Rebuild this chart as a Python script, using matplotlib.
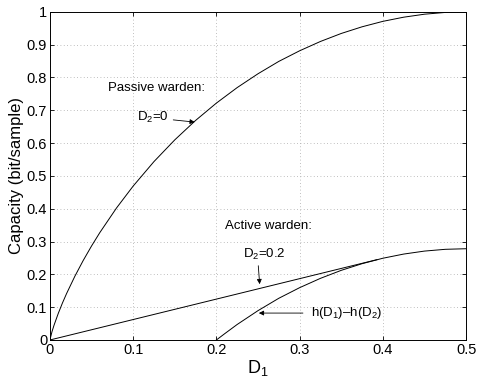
import matplotlib
matplotlib.use("Agg")
import matplotlib.pyplot as plt

plt.rcParams['font.family'] = ['Liberation Sans', 'DejaVu Sans']
plt.rcParams['mathtext.fontset'] = 'custom'
plt.rcParams['mathtext.rm'] = 'Liberation Sans'
plt.rcParams['mathtext.it'] = 'Liberation Sans'
plt.rcParams['mathtext.default'] = 'regular'

# Passive warden capacity (D2 = 0)
passive_d1 = [0.0, 0.0025, 0.005, 0.01, 0.015, 0.02, 0.03, 0.04, 0.05, 0.06, 0.08,
              0.1, 0.125, 0.15, 0.175, 0.2, 0.225, 0.25, 0.275, 0.3, 0.325,
              0.35, 0.375, 0.4, 0.425, 0.45, 0.475, 0.5]
passive_cap = [0.0, 0.0255, 0.0454, 0.0808, 0.1124, 0.1414, 0.1944, 0.2423, 0.2864,
               0.3274, 0.4022, 0.469, 0.5436, 0.6098, 0.669, 0.7219, 0.7692, 0.8113,
               0.849, 0.8813, 0.9097, 0.9341, 0.9544, 0.971, 0.9837, 0.9928, 0.9982, 1.0]

# Active warden: h(D1) - h(D2), D2 = 0.2
active_d1 = [0.2, 0.21, 0.225, 0.25, 0.275, 0.3, 0.325, 0.35, 0.375, 0.4,
             0.425, 0.45, 0.475, 0.5]
active_cap = [0.0, 0.0192, 0.0473, 0.0894, 0.1271, 0.1594, 0.1878, 0.2122, 0.2325,
              0.2491, 0.2618, 0.2709, 0.2763, 0.2781]

# Active warden: time-sharing line (tangent from origin)
line_d1 = [0.0, 0.393]
line_cap = [0.0, 0.2448]

x_ticks = [0, 0.1, 0.2, 0.3, 0.4, 0.5]
x_tick_labels = ['0', '0.1', '0.2', '0.3', '0.4', '0.5']
y_ticks = [0, 0.1, 0.2, 0.3, 0.4, 0.5, 0.6, 0.7, 0.8, 0.9, 1.0]
y_tick_labels = ['0', '0.1', '0.2', '0.3', '0.4', '0.5', '0.6', '0.7', '0.8', '0.9', '1']

fig = plt.figure(figsize=(4.8, 3.82), dpi=100)
ax = fig.add_axes([0.104, 0.110, 0.867, 0.859])

lw = 0.7
ax.plot(passive_d1, passive_cap, color='black', lw=lw)
ax.plot(active_d1, active_cap, color='black', lw=lw)
ax.plot(line_d1, line_cap, color='black', lw=lw)

ax.set_xlim(0, 0.5)
ax.set_ylim(0, 1)
ax.set_xticks(x_ticks)
ax.set_xticklabels(x_tick_labels)
ax.set_yticks(y_ticks)
ax.set_yticklabels(y_tick_labels)
ax.tick_params(direction='in', length=3, width=0.6, labelsize=10.5, top=True, right=True, pad=2)
ax.grid(True, linestyle=(0, (1, 3)), color='#aaaaaa', lw=0.6)
for s in ax.spines.values():
    s.set_linewidth(0.7)

ax.set_xlabel(r'D$_1$', fontsize=13, labelpad=1)
ax.set_ylabel('Capacity (bit/sample)', fontsize=12, labelpad=2)

fs = 9.5
ax.text(0.0697, 0.768, 'Passive warden:', fontsize=fs, va='center', ha='left')
ax.annotate(r'D$_2$=0', xy=(0.174, 0.664), xytext=(0.105, 0.677), fontsize=fs,
            va='center', ha='left',
            arrowprops=dict(arrowstyle='-|>', color='black', lw=0.6, mutation_scale=7,
                            shrinkA=1, shrinkB=0))
ax.text(0.21, 0.348, 'Active warden:', fontsize=fs, va='center', ha='left')
ax.annotate(r'D$_2$=0.2', xy=(0.252, 0.170), xytext=(0.232, 0.262), fontsize=fs,
            va='center', ha='left',
            arrowprops=dict(arrowstyle='-|>', color='black', lw=0.6, mutation_scale=7,
                            shrinkA=1, shrinkB=0, relpos=(0.35, 0.0)))
ax.annotate(r'h(D$_1$)–h(D$_2$)', xy=(0.251, 0.082), xytext=(0.314, 0.082), fontsize=fs,
            va='center', ha='left',
            arrowprops=dict(arrowstyle='-|>', color='black', lw=0.6, mutation_scale=7,
                            shrinkA=4, shrinkB=0))

fig.savefig('out.png', dpi=100)
